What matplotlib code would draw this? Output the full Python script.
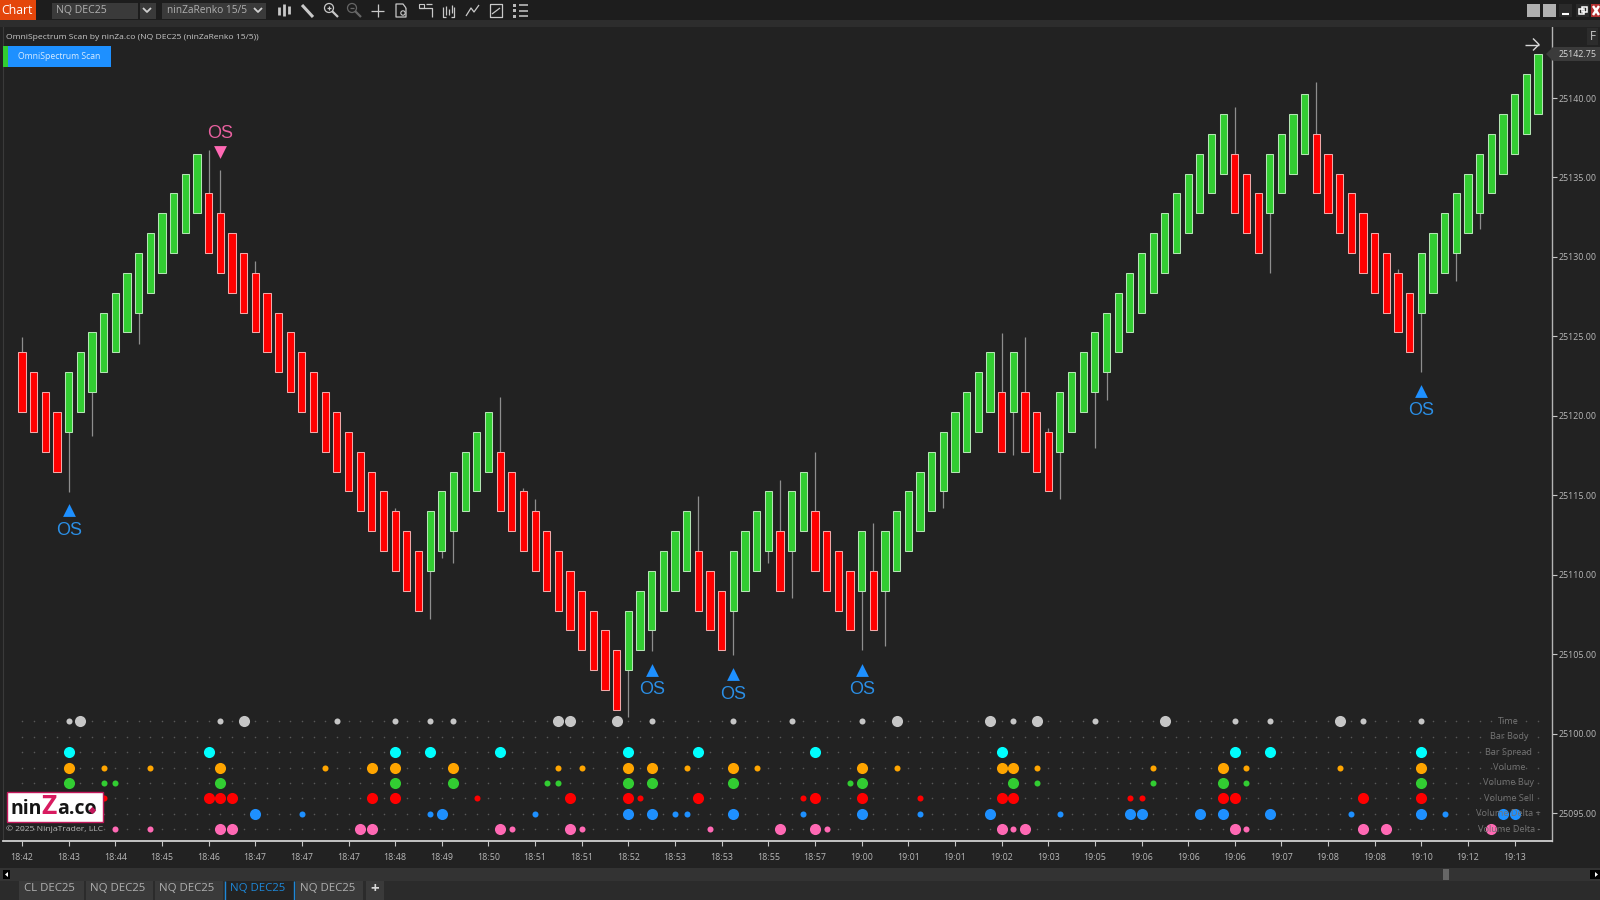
import matplotlib
matplotlib.use('Agg')
import matplotlib.pyplot as plt
from matplotlib.patches import Rectangle, Polygon, Circle

plt.rcParams['font.family'] = ['Open Sans', 'DejaVu Sans']

# renko bars, top of every body and its direction
body_tops = [
    25124.0, 25122.75, 25121.5, 25120.25,
    25122.75, 25124.0, 25125.25, 25126.5, 25127.75, 25129.0, 25130.25, 25131.5, 25132.75, 25134.0, 25135.25, 25136.5,
    25134.0, 25132.75, 25131.5, 25130.25, 25129.0, 25127.75, 25126.5, 25125.25, 25124.0, 25122.75, 25121.5, 25120.25,
    25119.0, 25117.75, 25116.5, 25115.25, 25114.0, 25112.75, 25111.5,
    25114.0, 25115.25, 25116.5, 25117.75, 25119.0, 25120.25,
    25117.75, 25116.5, 25115.25, 25114.0, 25112.75, 25111.5, 25110.25, 25109.0, 25107.75, 25106.5, 25105.25,
    25107.75, 25109.0, 25110.25, 25111.5, 25112.75, 25114.0,
    25111.5, 25110.25, 25109.0,
    25111.5, 25112.75, 25114.0, 25115.25,
    25112.75,
    25115.25, 25116.5,
    25114.0, 25112.75, 25111.5, 25110.25,
    25112.75,
    25110.25,
    25112.75, 25114.0, 25115.25, 25116.5, 25117.75, 25119.0, 25120.25, 25121.5, 25122.75, 25124.0,
    25121.5,
    25124.0,
    25121.5, 25120.25, 25119.0,
    25121.5, 25122.75, 25124.0, 25125.25, 25126.5, 25127.75, 25129.0, 25130.25, 25131.5, 25132.75, 25134.0, 25135.25,
    25136.5, 25137.75, 25139.0,
    25136.5, 25135.25, 25134.0,
    25136.5, 25137.75, 25139.0, 25140.25,
    25137.75, 25136.5, 25135.25, 25134.0, 25132.75, 25131.5, 25130.25, 25129.0, 25127.75,
    25130.25, 25131.5, 25132.75, 25134.0, 25135.25, 25136.5, 25137.75, 25139.0, 25140.25, 25141.5, 25142.75,
]
bar_dirs = ('RRRR' 'GGGGGGGGGGGG' 'RRRRRRRRRRRRRRRRRRR' 'GGGGGG' 'RRRRRRRRRRR' 'GGGGGG' 'RRR' 'GGGG' 'R' 'GG'
            'RRRR' 'G' 'R' 'GGGGGGGGGG' 'R' 'G' 'RRR' 'GGGGGGGGGGGGGGG' 'RRR' 'GGGG' 'RRRRRRRRR' 'GGGGGGGGGGG')
body_size = 3.75

wick_bars = [0, 4, 6, 10, 16, 17, 20, 32, 35, 36, 37, 41, 43, 44, 52, 54, 58, 61, 64, 65, 66, 68, 72, 73, 74,
             79, 84, 85, 86, 88, 89, 92, 93, 104, 107, 111, 118, 120, 123, 125]
wick_ends = [25124.95, 25115.23, 25118.73, 25124.5, 25136.73, 25135.5, 25129.75, 25114.2, 25107.24, 25111.04,
             25110.76, 25121.2, 25115.48, 25114.75, 25101.03, 25105.22, 25114.96, 25104.95, 25110.76, 25115.97,
             25108.52, 25117.71, 25105.27, 25113.24, 25105.52, 25114.22, 25125.24, 25117.54, 25124.95, 25119.22,
             25114.75, 25118.0, 25121.0, 25139.46, 25129.0, 25141.0, 25129.25, 25122.74, 25128.5, 25131.75]

time_labels = ['18:42', '18:43', '18:44', '18:45', '18:46', '18:47', '18:47', '18:47', '18:48', '18:49', '18:50',
               '18:51', '18:51', '18:52', '18:53', '18:53', '18:55', '18:57', '19:00', '19:01', '19:01', '19:02',
               '19:03', '19:05', '19:06', '19:06', '19:06', '19:07', '19:08', '19:08', '19:10', '19:12', '19:13']
price_ticks = [25095, 25100, 25105, 25110, 25115, 25120, 25125, 25130, 25135, 25140]

# OS signals
os_up_bars = [4, 54, 61, 72, 120]
os_up_prices = [25114.05, 25104.0, 25103.73, 25104.0, 25121.55]
os_down_bars = [17]
os_down_prices = [25136.63]

# scanner rows
row_names = ['Time', 'Bar Body', 'Bar Spread', 'Volume', 'Volume Buy', 'Volume Sell', 'Volume Delta +', 'Volume Delta -']
row_colors = ['#c6c6c6', '#c6c6c6', '#00ffff', '#ffa500', '#32cd32', '#ff0000', '#1e90ff', '#ff69b4']

time_big = [5, 19, 46, 47, 51, 75, 83, 87, 98, 113]
time_small = [4, 17, 27, 32, 35, 37, 54, 61, 66, 72, 85, 92, 104, 107, 115, 120]
body_big = []
body_small = []
spread_big = [4, 16, 32, 35, 41, 52, 58, 68, 84, 104, 107, 120]
spread_small = []
volume_big = [4, 17, 30, 32, 37, 52, 54, 61, 72, 84, 85, 103, 120]
volume_small = [7, 11, 26, 46, 48, 57, 63, 75, 87, 97, 105, 113]
buy_big = [4, 17, 32, 37, 52, 54, 61, 72, 85, 103, 120]
buy_small = [7, 8, 45, 46, 71, 87, 97, 105]
sell_big = [16, 17, 18, 30, 32, 47, 52, 58, 68, 72, 84, 85, 103, 104, 115, 120]
sell_small = [7, 39, 53, 67, 77, 95, 96]
delta_up_big = [20, 36, 52, 54, 61, 72, 83, 95, 96, 101, 103, 107, 120, 127, 128]
delta_up_small = [24, 35, 44, 56, 57, 67, 77, 89, 114, 122]
delta_down_big = [17, 18, 29, 30, 41, 47, 65, 68, 84, 86, 104, 115, 117, 126]
delta_down_small = [8, 11, 42, 48, 59, 69, 85, 105]

row_big = [time_big, body_big, spread_big, volume_big, buy_big, sell_big, delta_up_big, delta_down_big]
row_small = [time_small, body_small, spread_small, volume_small, buy_small, sell_small, delta_up_small, delta_down_small]

BG = '#222222'

fig = plt.figure(figsize=(16, 9), dpi=100, facecolor=BG)

# axes box in pixels: x 3..1552, y 27..841
left, right, top, bottom = 3, 1552, 27, 841
box = [left / 1600, 1 - bottom / 900, (right - left) / 1600, (bottom - top) / 900]
ax = fig.add_axes(box, facecolor=BG)
ax.set_xlim(-1.63, 131.2)
ax.set_ylim(25093.25, 25144.47)

n = len(body_tops)
xs = list(range(n))

# wicks first so bodies sit on top
for i, end in zip(wick_bars, wick_ends):
    start = body_tops[i] if end > body_tops[i] else body_tops[i] - body_size
    ax.plot([i, i], [start, end], color='#8e8e8e', lw=0.9, zorder=2, solid_capstyle='butt')

colors = ['#32cd32' if d == 'G' else '#ff0000' for d in bar_dirs]
edges = ['#b4e4b4' if d == 'G' else '#f2a8a8' for d in bar_dirs]
ax.bar(xs, [body_size] * n, bottom=[t - body_size for t in body_tops], width=0.62,
       color=colors, edgecolor=edges, linewidth=0.75, zorder=3)

# OS markers, offset from the triangle in points
for i, p in zip(os_up_bars, os_up_prices):
    ax.scatter([i], [p], marker='^', s=85, color='#1e90ff', linewidths=0, zorder=4)
    ax.annotate('OS', (i, p), xytext=(0, -14.2), textcoords='offset points', ha='center', va='center',
                color='#2b8fe6', fontsize=13, family=['Liberation Sans'])
for i, p in zip(os_down_bars, os_down_prices):
    ax.scatter([i], [p], marker='v', s=85, color='#ff69b4', linewidths=0, zorder=4)
    ax.annotate('OS', (i, p), xytext=(0, 13), textcoords='offset points', ha='center', va='center',
                color='#e8609f', fontsize=13, family=['Liberation Sans'])

ax.set_xticks(list(range(0, 4 * len(time_labels), 4)))
ax.set_xticklabels(time_labels)
ax.set_yticks(price_ticks)
ax.set_yticklabels(['%.2f' % p for p in price_ticks])
ax.yaxis.tick_right()
ax.tick_params(axis='x', colors='#b8b8b8', labelsize=6.4, length=3.5, width=0.8, pad=5.5, color='#c8c8c8')
ax.tick_params(axis='y', colors='#b8b8b8', labelsize=6.4, length=3.5, width=0.8, pad=1.5, color='#c8c8c8')
ax.spines['top'].set_visible(False)
ax.spines['left'].set_color('#3a3a3a')
ax.spines['right'].set_color('#b4b4b4')
ax.spines['right'].set_linewidth(1.0)
ax.spines['bottom'].set_color('#d0d0d0')
ax.spines['bottom'].set_linewidth(1.3)

# scanner rows get their own axes on the same x scale, y in row numbers
rows = fig.add_axes(box, facecolor='none')
rows.set_xlim(ax.get_xlim())
rows.set_ylim((841 - 721.3) / 15.4, (27 - 721.3) / 15.4)
rows.axis('off')
for r, name in enumerate(row_names):
    rows.scatter(xs, [r] * n, s=1.3, color='#585858', linewidths=0, zorder=1)
    rows.scatter(row_small[r], [r] * len(row_small[r]), s=19, color=row_colors[r], linewidths=0, zorder=2)
    rows.scatter(row_big[r], [r] * len(row_big[r]), s=64, color=row_colors[r], linewidths=0, zorder=3)
    rows.text(127.5, r, name, ha='center', va='center', color='#747474', fontsize=6.6, zorder=4)

# window chrome, drawn in pixel coordinates on a top layer
ui = fig.add_axes([0, 0, 1, 1], facecolor='none')
ui.set_xlim(0, 1600)
ui.set_ylim(900, 0)
ui.axis('off')


def rect(x0, y0, x1, y1, color, **kw):
    ui.add_patch(Rectangle((x0, y0), x1 - x0, y1 - y0, facecolor=color, edgecolor='none', **kw))


def line(xa, ya, color='#c8c8c8', lw=0.9):
    ui.plot(xa, ya, color=color, lw=lw, solid_capstyle='butt')


# toolbar
rect(0, 0, 1600, 20, '#1d1d1d')
rect(0, 20, 1600, 27, '#2d2d2d')
rect(0, 0, 36, 19.5, '#e4460b')
ui.text(1, 10, 'Chart', color='white', fontsize=8.8, va='center')
rect(52, 3, 138, 18.5, '#3a3a3a')
rect(140, 3, 156, 18.5, '#3a3a3a')
rect(162, 3, 266, 18.5, '#3a3a3a')
ui.text(56, 10.5, 'NQ DEC25', color='#b0b0b0', fontsize=7.6, va='center')
ui.text(167, 10.5, 'ninZaRenko 15/5', color='#b0b0b0', fontsize=7.3, va='center')
line([143, 147, 151], [8, 12, 8], '#d0d0d0', 1.3)
line([254, 258, 262], [8, 12, 8], '#d0d0d0', 1.3)

# toolbar icons, rough shapes
line([279, 279], [7, 15], lw=2)
line([284, 284], [4, 16], lw=2)
line([289, 289], [6, 14], lw=2)
line([302, 313], [5, 17], lw=2.2)
ui.add_patch(Circle((329, 8), 4.5, fill=False, edgecolor='#c8c8c8', lw=0.9))
line([332, 338], [11, 17], lw=1.6)
line([327, 331], [8, 8])
line([329, 329], [6, 10])
ui.add_patch(Circle((352, 8), 4.5, fill=False, edgecolor='#666666', lw=0.9))
line([355, 361], [11, 17], '#666666', 1.6)
line([350, 354], [8, 8], '#666666')
line([371, 384], [10.5, 10.5])
line([377.5, 377.5], [4, 17])
line([406, 406, 396, 396, 403, 406], [8, 17, 17, 4, 4, 8])
ui.add_patch(Circle((403, 13), 2.2, fill=False, edgecolor='#c8c8c8', lw=0.8))
line([419, 432, 432], [8, 8, 17])
ui.add_patch(Rectangle((419, 4), 5, 4, fill=False, edgecolor='#c8c8c8', lw=0.8))
line([432, 426], [4, 4])
line([443, 443, 446], [7, 17, 17])
line([454, 454, 451], [7, 17, 17])
line([446, 446], [6, 15])
line([449, 449], [9, 15])
line([452, 452], [5, 13])
line([466, 471, 474, 479], [16, 8, 12, 5])
line([490, 502, 502, 490, 490], [4, 4, 17, 17, 4])
line([492, 500], [14, 8])
for yy in [5, 10.5, 16]:
    rect(513, yy - 1.5, 516, yy + 1.5, '#b8b8b8')
    line([519, 528], [yy, yy], lw=1.1)

# window buttons
rect(1527, 4, 1540, 17, '#b0b0b0')
rect(1543, 4, 1556, 17, '#b0b0b0')
rect(1559, 4, 1572, 17, '#2a2a2a')
line([1562, 1569], [14, 14], 'white', 1.5)
rect(1576, 4, 1589, 17, '#2a2a2a')
ui.add_patch(Rectangle((1579, 9), 5, 5, fill=False, edgecolor='white', lw=1.1))
ui.add_patch(Rectangle((1582, 7), 5, 5, fill=False, edgecolor='white', lw=1.1))
rect(1591, 4, 1600, 17, '#b03030')
line([1593, 1599], [6, 15], 'white', 1.8)
line([1593, 1599], [15, 6], 'white', 1.8)

# chart header
ui.text(6, 37.5, 'OmniSpectrum Scan by ninZa.co (NQ DEC25 (ninZaRenko 15/5))', color='#c8c8c8', fontsize=6.1, va='center')
rect(3, 46, 8, 67, '#32cd32')
rect(8, 46, 111, 67, '#1e90ff')
ui.text(59.5, 56.5, 'OmniSpectrum Scan', color='#d8ecff', fontsize=6.2, ha='center', va='center')

# right side
rect(1587, 28, 1598, 45, '#2c2c2c')
ui.text(1592.5, 36.5, 'F', color='#c8c8c8', fontsize=8.5, ha='center', va='center')
ui.add_patch(Polygon([[1546, 54], [1553, 47], [1600, 47], [1600, 61], [1553, 61]], facecolor='#3b3b3b', edgecolor='none'))
ui.text(1558.5, 54.5, '25142.75', color='#d8d8d8', fontsize=6.4, va='center')
line([1525, 1539], [44.5, 44.5], '#d8d8d8', 1.0)
line([1533, 1539, 1533], [38.5, 44.5, 50.5], '#d8d8d8', 1.0)

# logo
ui.add_patch(Rectangle((7, 792), 96, 30, facecolor='white', edgecolor='#c2185b', lw=1.0))
logo_font = {'fontweight': 'bold', 'va': 'center', 'zorder': 6}
ui.text(11, 809, 'nin', color='#151515', fontsize=14, **logo_font)
ui.text(41, 807, 'Z', color='#d81b60', fontsize=19, **logo_font)
ui.text(57, 809, 'a.co', color='#151515', fontsize=14, **logo_font)
ui.scatter([92], [810], marker='D', s=14, color='#c2185b', linewidths=0, zorder=7)
ui.text(6, 829, '\u00a9 2025 NinjaTrader, LLC', color='#b4b4b4', fontsize=6.1, va='center')

# scrollbar and tabs
rect(0, 868, 1600, 881, '#333333')
rect(0, 881, 1600, 900, '#2b2b2b')
rect(3, 870, 10, 879, '#000000')
ui.add_patch(Polygon([[8, 872], [8, 877], [5, 874.5]], facecolor='white', edgecolor='none'))
rect(1590, 870, 1600, 879, '#000000')
ui.add_patch(Polygon([[1595, 872], [1595, 877], [1598, 874.5]], facecolor='white', edgecolor='none'))
rect(1443, 869, 1449, 880, '#666666')

tab_names = ['CL DEC25', 'NQ DEC25', 'NQ DEC25', 'NQ DEC25', 'NQ DEC25']
tab_left = [19, 86, 155, 225, 296]
tab_right = [84, 153, 223, 294, 363]
for k, name in enumerate(tab_names):
    active = k == 3
    rect(tab_left[k], 881, tab_right[k], 900, '#232323' if active else '#3a3a3a')
    ui.text((tab_left[k] + tab_right[k]) / 2 - 2, 888.5, name, color='#1e88d8' if active else '#b0b0b0',
            fontsize=8.2, ha='center', va='center')
    if active:
        line([tab_left[k], tab_left[k]], [881, 900], '#1e88d8', 1.0)
        line([tab_right[k], tab_right[k]], [881, 900], '#1e88d8', 1.0)
rect(366, 881, 384, 900, '#3a3a3a')
ui.text(375, 889, '+', color='#d8d8d8', fontsize=11, fontweight='bold', ha='center', va='center')

fig.savefig('out.png', dpi=100, facecolor=BG)
